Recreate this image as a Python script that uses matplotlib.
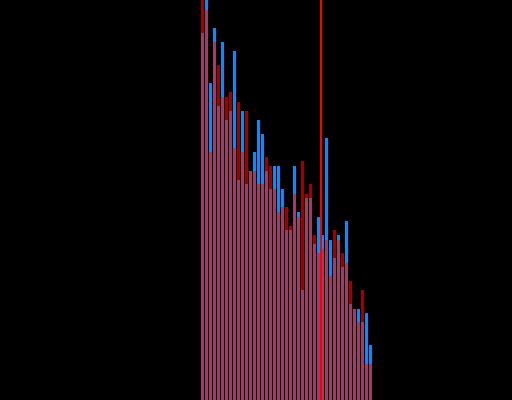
import numpy as np
import matplotlib
matplotlib.use("Agg")
import matplotlib.pyplot as plt

bins = np.arange(43)
red_counts = [42, 39.0, 24.8, 35.8, 33.5, 30.3, 30.3, 30.8, 25.2, 29.8,
              24.8, 28.9, 22.9, 22.9, 21.6, 21.6, 24.3, 23.4, 21.1, 18.8,
              19.3, 19.3, 17.4, 20.6, 18.3, 23.9, 20.6, 21.6, 16.5, 14.7,
              15.1, 16.0, 12.4, 17.0, 16.0, 14.7, 13.7, 11.9, 9.1, 7.8,
              11.0, 3.6, 3.6]
blue_counts = [36.7, 41, 31.7, 37.2, 29.4, 35.8, 28.0, 28.9, 34.9, 22.0,
               28.9, 21.6, 22.9, 24.8, 28.0, 26.6, 22.9, 21.1, 23.4, 23.4,
               21.1, 17.0, 17.0, 23.4, 18.8, 11.0, 20.2, 20.2, 15.6, 18.3,
               16.5, 26.2, 16.0, 14.2, 16.5, 13.3, 17.9, 9.6, 9.1, 9.1,
               7.8, 8.7, 5.5]
marker_x = 29.5

red = np.array(red_counts)
blue = np.array(blue_counts)
overlap = np.minimum(red, blue)

fig = plt.figure(figsize=(5.12, 4.0), dpi=100, facecolor="black")
ax = fig.add_axes([0, 0, 1, 1])
ax.set_facecolor("black")
ax.bar(bins, blue, width=0.75, color="#0a8cf5", linewidth=0)
ax.bar(bins, red, width=0.75, color="#a00000", linewidth=0)
ax.bar(bins, overlap, width=0.75, color="#9e3c6c", linewidth=0)
ax.axvline(marker_x, color="#ff0000", linewidth=1.44, antialiased=False, zorder=10)
ax.set_xlim(-50.625, 77.375)
ax.set_ylim(0, 40)
ax.axis("off")
fig.savefig("out.png", dpi=100, facecolor="black")
